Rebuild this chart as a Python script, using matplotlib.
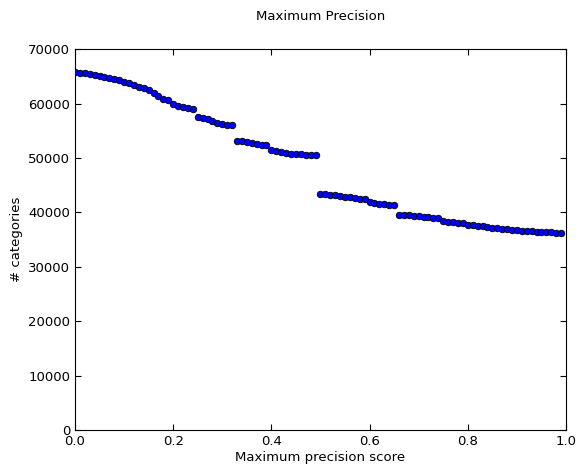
import numpy as np
import matplotlib
matplotlib.use("Agg")
import matplotlib.pyplot as plt

# ====================== DATA ======================

scores = [round(i * 0.01, 2) for i in range(100)]

categories = [
    65700, 65650, 65550, 65450, 65300, 65050, 64850, 64650, 64450, 64250,
    64000, 63700, 63400, 63100, 62800, 62400, 62000, 61400, 60900, 60700,
    59900, 59600, 59300, 59100, 58900, 57500, 57300, 57100, 56700, 56500,
    56300, 56100, 56000, 53200, 53100, 52900, 52700, 52500, 52400, 52300,
    51500, 51300, 51100, 50950, 50800, 50700, 50650, 50600, 50550, 50500,
    43400, 43300, 43200, 43100, 43000, 42900, 42800, 42600, 42500, 42400,
    41900, 41750, 41600, 41500, 41400, 41350, 39600, 39550, 39500, 39400,
    39300, 39200, 39100, 39000, 39000, 38400, 38300, 38200, 38100, 38050,
    37750, 37650, 37550, 37400, 37300, 37200, 37100, 37000, 36900, 36800,
    36700, 36600, 36550, 36500, 36450, 36400, 36350, 36300, 36250, 36200,
]

# ====================== PLOT ======================

plt.rcParams["font.size"] = 9.5

fig = plt.figure(figsize=(5.79, 4.72), dpi=100, facecolor="white")
ax = fig.add_axes([0.1295, 0.089, 0.848, 0.807])

ax.scatter(scores, categories, s=22, color="blue", edgecolor="black", linewidth=0.6, zorder=3)

ax.set_xlim(0, 1.0)
ax.set_ylim(0, 70000)
ax.set_xticks(np.arange(0, 1.01, 0.2))
ax.set_yticks(np.arange(0, 70001, 10000))
ax.tick_params(direction="in", top=True, right=True, length=4)

ax.set_xlabel("Maximum precision score", labelpad=2)
ax.set_ylabel("# categories")
ax.set_title("Maximum Precision", fontsize=9.5, pad=21)

fig.savefig("out.png", dpi=100)
